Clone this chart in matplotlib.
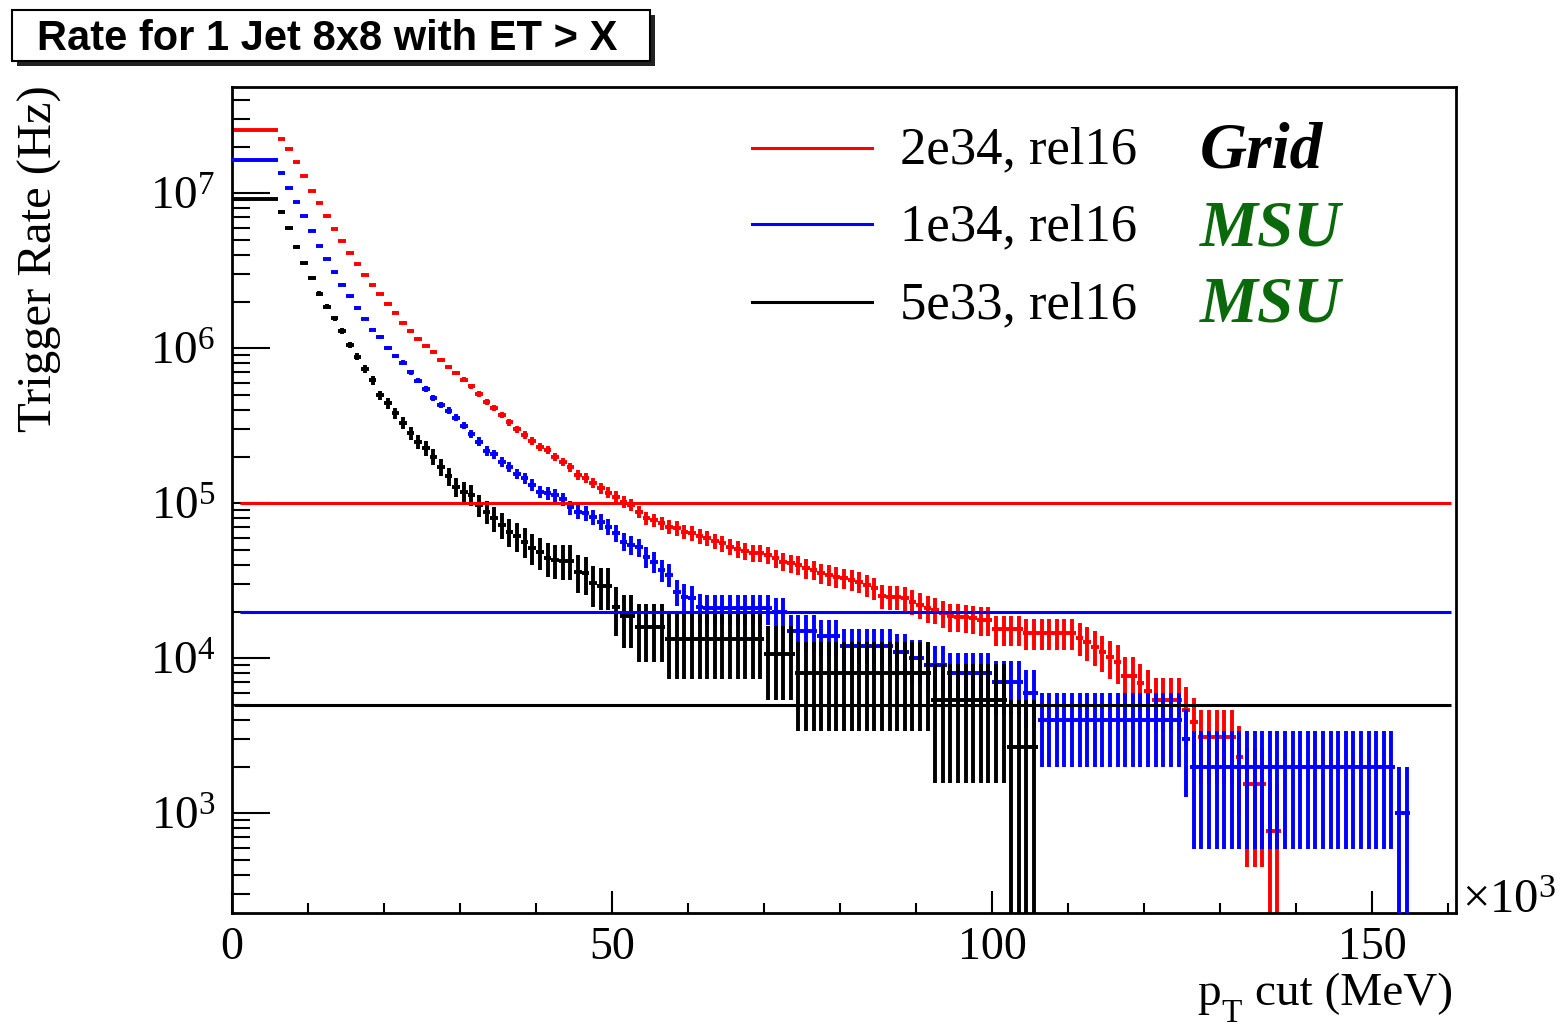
import numpy as np
import matplotlib
matplotlib.use("Agg")
import matplotlib.pyplot as plt
from matplotlib.patches import Rectangle
from matplotlib.lines import Line2D
from matplotlib.ticker import FixedLocator, MultipleLocator, LogLocator, NullFormatter

plt.rcParams["font.family"] = ["Liberation Serif", "DejaVu Serif"]
plt.rcParams["mathtext.fontset"] = "custom"
plt.rcParams["mathtext.rm"] = "Liberation Serif"
plt.rcParams["mathtext.it"] = "Liberation Serif:italic"
plt.rcParams["mathtext.bf"] = "Liberation Serif:bold"

# Cumulative trigger rate (Hz) for one 8x8 jet above threshold; 1 GeV bins from 0
rate_2e34 = ([2.56e7] * 6 +
             [2.24e7, 1.92e7, 1.58e7, 1.29e7, 1.04e7, 8.70e6, 7.17e6, 5.91e6, 4.90e6, 4.12e6,
              3.48e6, 2.97e6, 2.56e6, 2.24e6, 1.94e6, 1.70e6, 1.46e6, 1.29e6, 1.15e6, 1.04e6,
              9.42e5, 8.41e5, 7.57e5, 6.93e5, 6.27e5, 5.69e5, 5.07e5, 4.52e5, 4.12e5, 3.73e5,
              3.33e5, 3.00e5, 2.76e5, 2.52e5, 2.32e5, 2.21e5, 2.00e5, 1.85e5, 1.71e5, 1.52e5,
              1.45e5, 1.35e5, 1.25e5, 1.17e5, 1.10e5, 1.02e5, 9.75e4, 8.83e4, 8.00e4, 7.80e4,
              7.43e4, 7.06e4, 6.90e4, 6.56e4, 6.40e4, 6.15e4, 5.94e4, 5.71e4, 5.52e4, 5.25e4,
              5.05e4, 4.95e4, 4.80e4, 4.77e4, 4.64e4, 4.42e4, 4.20e4, 4.10e4, 4.00e4, 3.81e4,
              3.71e4, 3.53e4, 3.45e4, 3.36e4, 3.28e4, 3.20e4, 3.12e4, 2.97e4, 2.83e4, 2.52e4,
              2.50e4, 2.48e4, 2.44e4, 2.32e4, 2.21e4, 2.10e4, 2.05e4, 1.95e4, 1.86e4, 1.85e4,
              1.84e4, 1.81e4, 1.77e4, 1.76e4] +
             [1.54e4] * 4 + [1.463e4] * 7 +
             [1.36e4, 1.28e4, 1.19e4, 1.10e4, 1.02e4, 9.5e3, 7.7e3, 7.7e3, 6.93e3, 6.16e3] +
             [5.39e3] * 4 + [4.62e3, 3.85e3] + [3.08e3] * 5 + [2.31e3] +
             [1.54e3] * 3 + [770.0] * 2)

rate_1e34 = ([1.64e7] * 6 +
             [1.35e7, 1.08e7, 8.79e6, 7.11e6, 5.71e6, 4.57e6, 3.75e6, 3.09e6, 2.57e6, 2.16e6,
              1.82e6, 1.55e6, 1.32e6, 1.18e6, 1.01e6, 8.95e5, 8.07e5, 7.00e5, 6.18e5, 5.46e5,
              4.80e5, 4.31e5, 3.96e5, 3.57e5, 3.17e5, 2.81e5, 2.50e5, 2.18e5, 2.07e5, 1.85e5,
              1.72e5, 1.55e5, 1.45e5, 1.31e5, 1.19e5, 1.16e5, 1.13e5, 1.06e5, 9.42e4, 8.83e4,
              8.62e4, 8.19e4, 7.61e4, 7.06e4, 6.40e4, 5.65e4, 5.38e4, 5.20e4, 4.52e4, 4.20e4,
              3.71e4, 3.45e4, 2.69e4, 2.50e4, 2.44e4, 2.15e4] +
             [2.1e4] * 9 + [2.0e4] * 2 + [1.5e4] * 4 + [1.4e4] * 3 + [1.2e4] * 7 +
             [1.1e4] * 2 + [1.0e4] * 2 + [9e3] * 3 + [8e3] * 6 + [7e3] * 4 + [6e3] * 2 +
             [4e3] * 19 + [3e3] + [2e3] * 27 + [1e3] * 2)

rate_5e33 = ([9.15e6] * 6 +
             [7.61e6, 5.94e6, 4.51e6, 3.53e6, 2.84e6, 2.25e6, 1.85e6, 1.56e6, 1.29e6, 1.05e6,
              8.83e5, 7.32e5, 6.24e5, 4.97e5, 4.42e5, 3.81e5, 3.31e5, 2.83e5, 2.50e5, 2.26e5,
              2.00e5, 1.72e5, 1.50e5, 1.28e5, 1.19e5, 1.13e5, 9.75e4, 8.83e4, 8.00e4, 7.24e4,
              6.56e4, 6.15e4, 5.65e4, 5.15e4, 4.87e4, 4.42e4, 4.31e4, 4.27e4, 4.27e4, 3.62e4,
              3.54e4, 3.05e4, 2.94e4, 2.94e4, 2.14e4, 1.87e4, 1.87e4] +
             [1.60e4] * 4 + [1.335e4] * 13 + [1.068e4] * 4 + [8010.0] * 18 +
             [5340.0] * 10 + [2670.0] * 4)

# Rate carried by one simulated event in each sample (sets the Poisson error bars)
weight_2e34 = 770.0
weight_1e34 = 1000.0
weight_5e33 = 2670.0

target_rates = [1e5, 2e4, 5e3]
series_colors = ["#ff0000", "#0000ff", "#000000"]
legend_labels = ["2e34, rel16", "1e34, rel16", "5e33, rel16"]
legend_sites = ["Grid", "MSU", "MSU"]
site_colors = ["#000000", "#0a690a", "#0a690a"]
x_major = [0, 50, 100, 150]
y_decades = [3, 4, 5, 6, 7]

W, H = 1562, 1026
fig = plt.figure(figsize=(W / 100, H / 100), dpi=100)


def fx(px):
    return px / W


def fy(py):
    return 1 - py / H


ax = fig.add_axes([fx(232), fy(913), fx(1456) - fx(232), fy(87) - fy(913)])
ax.set_xlim(0, 161)
ax.set_yscale("log")
ax.set_ylim(227, 4.85e7)

series = [(rate_2e34, weight_2e34), (rate_1e34, weight_1e34), (rate_5e33, weight_5e33)]
for z, ((rates, w), col) in enumerate(zip(series, series_colors)):
    r = np.asarray(rates, dtype=float)
    centers = np.arange(len(r)) + 0.5
    err = np.sqrt(r * w)
    lo = np.minimum(err, r * (1 - 1e-6))
    ax.errorbar(centers, r, xerr=0.5, yerr=[lo, err], fmt="none", ecolor=col,
                elinewidth=2.8, capsize=0, zorder=2 + z)

# Target rate lines
line_start = [1.0, 1.0, 0.2]
for t, col, x0 in zip(target_rates, series_colors, line_start):
    ax.plot([x0, 160.4], [t, t], color=col, lw=2.2, zorder=6, solid_capstyle="butt")

# Axes styling
for s in ax.spines.values():
    s.set_linewidth(2.0)
ax.xaxis.set_major_locator(FixedLocator(x_major))
ax.xaxis.set_minor_locator(MultipleLocator(10))
ax.set_xticklabels([str(v) for v in x_major])
ax.yaxis.set_major_locator(FixedLocator([10.0 ** d for d in y_decades]))
ax.yaxis.set_minor_locator(LogLocator(base=10, subs=np.arange(2, 10)))
ax.yaxis.set_minor_formatter(NullFormatter())
ax.set_yticklabels([r"$10^{%d}$" % d for d in y_decades])
ax.tick_params(axis="x", which="major", direction="in", length=16, width=1.5,
               labelsize=33, pad=10, top=False)
ax.tick_params(axis="x", which="minor", direction="in", length=7.5, width=1.5, top=False)
ax.tick_params(axis="y", which="major", direction="in", length=27, width=1.5,
               labelsize=34, pad=12, right=False)
ax.tick_params(axis="y", which="minor", direction="in", length=13, width=1.5, right=False)

# Axis titles
fig.text(fx(40), fy(85), "Trigger Rate (Hz)", rotation=90, ha="center", va="top", fontsize=35)
fig.text(fx(1453), fy(1005), "cut (MeV)", ha="right", va="baseline", fontsize=34)
fig.text(fx(1197), fy(1005), "p", ha="left", va="baseline", fontsize=34)
fig.text(fx(1221), fy(1022), "T", ha="left", va="baseline", fontsize=24)
fig.text(fx(1462), fy(913), "\u00d710$^{3}$", ha="left", va="baseline", fontsize=35)

# Legend
legend_y = [148, 224, 302]
text_base = [163, 240, 318]
site_base = [168, 245, 322]
for col, lab, site, scol, ly, tb, sb in zip(series_colors, legend_labels, legend_sites,
                                             site_colors, legend_y, text_base, site_base):
    fig.add_artist(Line2D([fx(752), fx(872)], [fy(ly), fy(ly)], color=col, lw=2.2,
                          transform=fig.transFigure))
    fig.text(fx(900), fy(tb), lab, ha="left", va="baseline", fontsize=38)
    fig.text(fx(1200), fy(sb), site, ha="left", va="baseline", fontsize=47,
             fontweight="bold", fontstyle="italic", color=scol)

# Title box with drop shadow
fig.add_artist(Rectangle((fx(17), fy(66)), fx(655) - fx(17), fy(15) - fy(66),
                         transform=fig.transFigure, facecolor="#222222", edgecolor="none"))
fig.add_artist(Rectangle((fx(12), fy(61)), fx(650) - fx(12), fy(10) - fy(61),
                         transform=fig.transFigure, facecolor="white", edgecolor="black",
                         linewidth=1.5))
fig.text(fx(37), fy(50), "Rate for 1 Jet 8x8 with ET > X", ha="left", va="baseline",
         fontsize=30, fontweight="bold", family="Liberation Sans")

fig.savefig("out.png", dpi=100)
